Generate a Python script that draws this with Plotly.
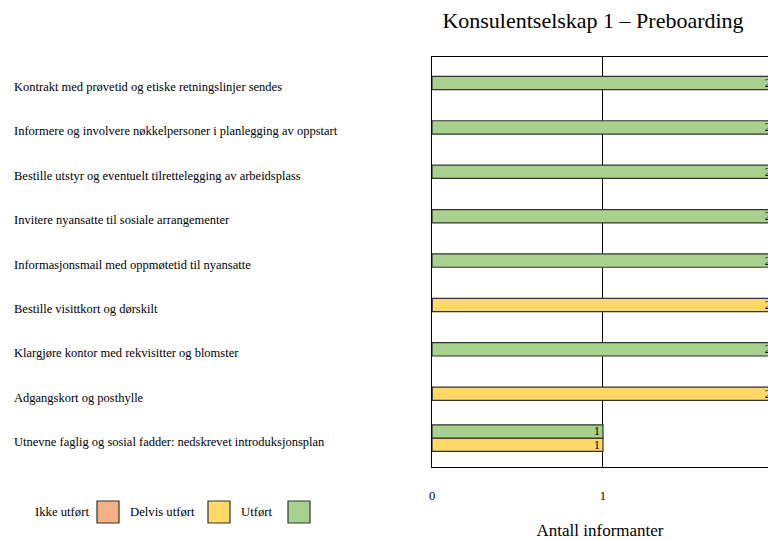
import plotly.graph_objects as go

categories = [
    "Kontrakt med prøvetid og etiske retningslinjer sendes",
    "Informere og involvere nøkkelpersoner i planlegging av oppstart",
    "Bestille utstyr og eventuelt tilrettelegging av arbeidsplass",
    "Invitere nyansatte til sosiale arrangementer",
    "Informasjonsmail med oppmøtetid til nyansatte",
    "Bestille visittkort og dørskilt",
    "Klargjøre kontor med rekvisitter og blomster",
    "Adgangskort og posthylle",
    "Utnevne faglig og sosial fadder: nedskrevet introduksjonsplan",
]
ikke_utfort = [0, 0, 0, 0, 0, 0, 0, 0, 0]
delvis_utfort = [0, 0, 0, 0, 0, 2, 0, 2, 1]
utfort = [2, 2, 2, 2, 2, 0, 2, 0, 1]

series_names = ["Ikke utført", "Delvis utført", "Utført"]
series_values = [ikke_utfort, delvis_utfort, utfort]
colors = ["#F4B183", "#FFD966", "#A9D18E"]
x_ticks = [0, 1, 2]

W, H = 768, 540
L, R, T, B = 432, 0, 57, 73
FONT = "Liberation Serif"
BW = 0.3


def px(xp):
    return (xp - L) / (W - L - R)


def py(yp):
    return 1 - (yp - T) / (H - T - B)


fig = go.Figure()
n = len(categories)
for si, (name, vals, col) in enumerate(zip(series_names, series_values, colors)):
    # categories with more than one non-zero series: bars side by side (Utført above)
    offsets = []
    for i in range(n):
        nz = [k for k in range(3) if series_values[k][i] > 0]
        if len(nz) > 1 and si in nz:
            order = sorted(nz, reverse=True)
            offsets.append(-BW + order.index(si) * BW)
        else:
            offsets.append(-BW / 2)
    fig.add_trace(go.Bar(
        y=categories, x=vals, orientation="h", name=name,
        marker=dict(color=col, line=dict(color="#333333", width=1.2)),
        width=[BW] * n, offset=offsets,
        text=[str(v) if v > 0 else "" for v in vals],
        textposition="inside", insidetextanchor="end", textangle=0,
        textfont=dict(family=FONT, size=12.5, color="black"),
        constraintext="none",
        showlegend=False,
    ))

fig.update_layout(
    template="none",
    width=W, height=H,
    margin=dict(l=L, r=R, t=T, b=B, autoexpand=False),
    barmode="overlay",
    paper_bgcolor="white", plot_bgcolor="white",
    font=dict(family=FONT, size=12, color="black"),
    title=dict(text="Konsulentselskap 1 – Preboarding", xref="paper", x=px(593), xanchor="center",
               yref="container", y=1 - 20 / H, yanchor="middle",
               font=dict(family=FONT, size=22, color="black")),
    xaxis=dict(range=[0, 1.965], tickvals=x_ticks, showgrid=True, gridcolor="black", gridwidth=1,
               zeroline=False, showline=True, linecolor="black", linewidth=1, mirror=True,
               ticks="", ticklabelstandoff=17, tickfont=dict(family=FONT, size=12.5, color="black"),
               title=dict(text="Antall informanter", font=dict(family=FONT, size=17, color="black"),
                          standoff=22)),
    yaxis=dict(type="category", categoryorder="array", categoryarray=categories,
               range=[8.65, -0.586], showticklabels=False, showgrid=False, zeroline=False,
               showline=True, linecolor="black", linewidth=1, ticks=""),
)

annotations = []
for c in categories:
    annotations.append(dict(text=c, xref="paper", yref="y", x=px(12), y=c, xanchor="left",
                            yanchor="middle", yshift=-4, showarrow=False,
                            font=dict(family=FONT, size=12.5, color="black")))

# manual legend: label followed by patch
legend_text_x = [33, 128, 239]
legend_patch_x = [97, 208, 288]
ly = 512
shapes = []
for name, col, tx, pxx in zip(series_names, colors, legend_text_x, legend_patch_x):
    annotations.append(dict(text=name, xref="paper", yref="paper", x=px(tx), y=py(ly),
                            xanchor="left", yanchor="middle", showarrow=False,
                            font=dict(family=FONT, size=12.7, color="black")))
    shapes.append(dict(type="rect", xref="paper", yref="paper", x0=px(pxx), x1=px(pxx + 22),
                       y0=py(ly - 11), y1=py(ly + 11), fillcolor=col,
                       line=dict(color="#333333", width=1.2)))

fig.update_layout(annotations=annotations, shapes=shapes)
fig.write_html("out.html")
